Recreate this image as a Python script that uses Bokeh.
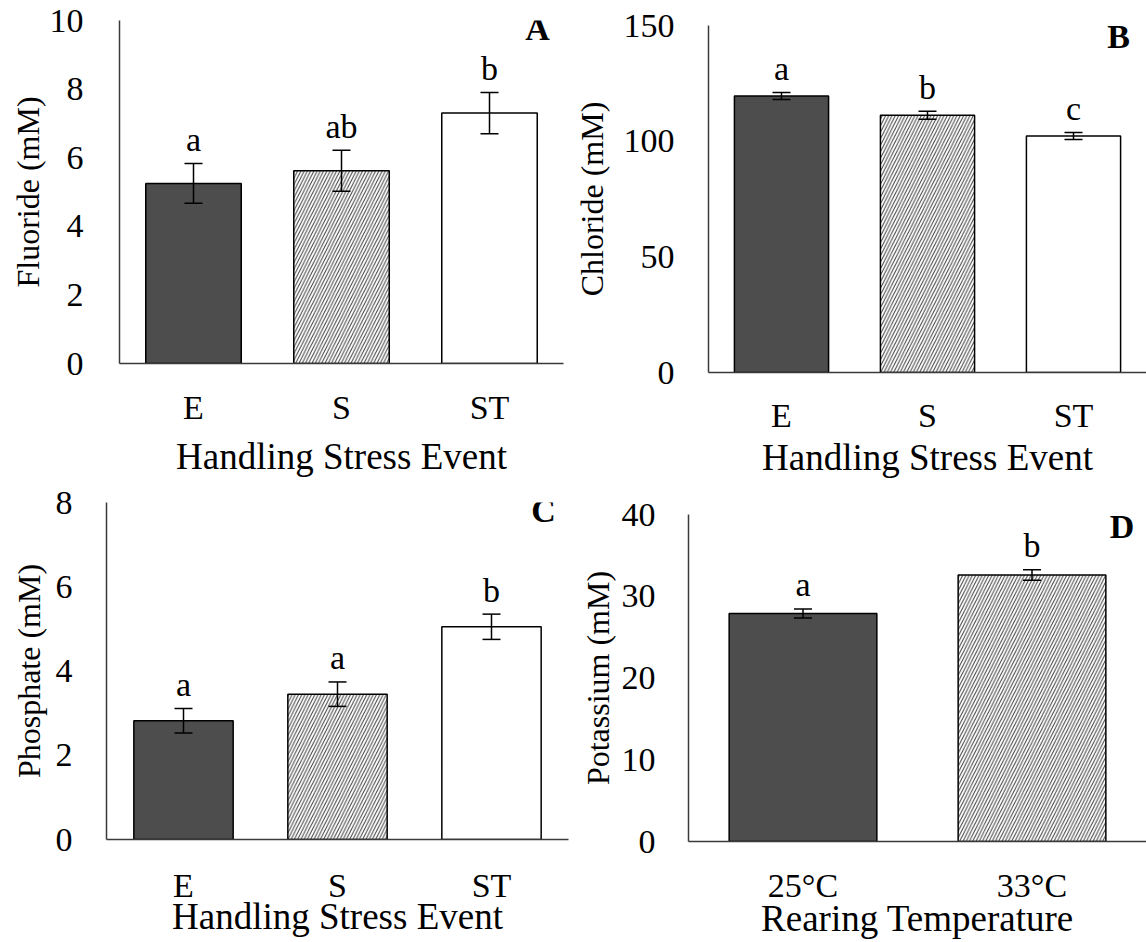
from bokeh.plotting import figure
from bokeh.models import FactorRange, Range1d, FixedTicker, Whisker, TeeHead, ColumnDataSource
from bokeh.layouts import row, column
from bokeh.embed import file_html
from bokeh.resources import INLINE
from bokeh.core.properties import value

# ---------------- data ----------------
stress_events = ["E", "S", "ST"]
fluoride = [5.25, 5.62, 7.30]
fluoride_se = [0.58, 0.60, 0.60]
fluoride_sig = ["a", "ab", "b"]

chloride = [119.5, 111.2, 102.2]
chloride_se = [1.5, 1.7, 1.5]
chloride_sig = ["a", "b", "c"]

phosphate = [2.82, 3.45, 5.05]
phosphate_se = [0.29, 0.29, 0.30]
phosphate_sig = ["a", "a", "b"]

temps = ["25°C", "33°C"]
potassium = [27.9, 32.6]
potassium_se = [0.55, 0.65]
potassium_sig = ["a", "b"]

FONT = "Liberation Serif"
DARK = "#4d4d4d"
AXIS = "#3a3a3a"


def panel(cats, vals, errs, sigs, ymax, ystep, ylabel, xlabel, tag,
          fills, hatches, width, height, bl, br, bt, bb,
          x_std, x_title_std, y_title_std, y_std, tag_dx, tag_dy):
    p = figure(x_range=FactorRange(*cats), y_range=Range1d(0, ymax),
               width=width, height=height, output_backend="svg",
               toolbar_location=None, min_border_left=bl, min_border_right=br,
               min_border_top=bt, min_border_bottom=bb)
    p.outline_line_color = None
    p.xgrid.grid_line_color = None
    p.ygrid.grid_line_color = None
    p.background_fill_color = "white"
    p.border_fill_color = "white"

    src = ColumnDataSource(dict(
        x=cats, top=vals, upper=[v + e for v, e in zip(vals, errs)],
        lower=[v - e for v, e in zip(vals, errs)], fill=fills, hatch=hatches,
        sig=sigs))
    p.vbar(x="x", top="top", width=0.645, source=src, fill_color="fill",
           line_color="black", line_width=1.5, hatch_pattern="hatch",
           hatch_color="#404040", hatch_scale=6.5, hatch_weight=1.0)
    w = Whisker(base="x", upper="upper", lower="lower", source=src,
                line_color="black", line_width=1.5, level="overlay",
                upper_head=TeeHead(size=18, line_color="black", line_width=1.5),
                lower_head=TeeHead(size=18, line_color="black", line_width=1.5))
    p.add_layout(w)
    p.text(x="x", y="upper", text="sig", source=src, text_align="center",
           text_baseline="alphabetic", y_offset=-24,
           text_font=value(FONT), text_font_size="34px", text_color="black")
    p.text(x=[cats[-1]], y=[ymax], text=[tag], text_align="center",
           text_baseline="alphabetic", x_offset=tag_dx, y_offset=tag_dy,
           text_font=value(FONT), text_font_size="34px",
           text_font_style="bold", text_color="black")

    for ax in (p.xaxis[0], p.yaxis[0]):
        ax.axis_line_color = AXIS
        ax.axis_line_width = 1.5
        ax.major_tick_line_color = None
        ax.minor_tick_line_color = None
        ax.major_tick_out = 0
        ax.major_tick_in = 0
        ax.major_label_text_font = FONT
        ax.major_label_text_color = "black"
        ax.axis_label_text_font = FONT
        ax.axis_label_text_font_style = "normal"
        ax.axis_label_text_color = "black"

    p.yaxis.ticker = FixedTicker(ticks=list(range(0, ymax + 1, ystep)))
    p.yaxis.major_label_text_font_size = "34px"
    p.yaxis.major_label_standoff = y_std
    p.yaxis.axis_label = ylabel
    p.yaxis.axis_label_text_font_size = "32px"
    p.yaxis.axis_label_standoff = y_title_std

    p.xaxis.major_label_text_font_size = "34px"
    p.xaxis.major_label_standoff = x_std
    p.xaxis.axis_label = xlabel
    p.xaxis.axis_label_text_font_size = "37px"
    p.xaxis.axis_label_standoff = x_title_std
    return p


three_fill = [DARK, "white", "white"]
three_hatch = [" ", "/", " "]

pA = panel(stress_events, fluoride, fluoride_se, fluoride_sig, 10, 2,
           "Fluoride (mM)", "Handling Stress Event", "A",
           three_fill, three_hatch, 570, 480, 119, 7, 20, 117,
           25, 7, 1, 36, 48, 8)
pB = panel(stress_events, chloride, chloride_se, chloride_sig, 150, 50,
           "Chloride (mM)", "Handling Stress Event", "B",
           three_fill, three_hatch, 576, 480, 137, 0, 25, 104,
           24, 0, 11, 34, 45, 11)
pC = panel(stress_events, phosphate, phosphate_se, phosphate_sig, 8, 2,
           "Phosphate (mM)", "Handling Stress Event", "C",
           three_fill, three_hatch, 572, 462, 106, 4, 22, 103,
           27, -11, 6, 34, 52, 8)
pD = panel(temps, potassium, potassium_se, potassium_sig, 40, 10,
           "Potassium (mM)", "Rearing Temperature", "D",
           [DARK, "white"], [" ", "/"], 574, 462, 116, 0, 34, 101,
           25, -9, 3, 33, 90, 12)

layout = column(row(column(pA), column(pB)), row(column(pC), column(pD)))
open("out.html", "w").write(file_html(layout, INLINE))
